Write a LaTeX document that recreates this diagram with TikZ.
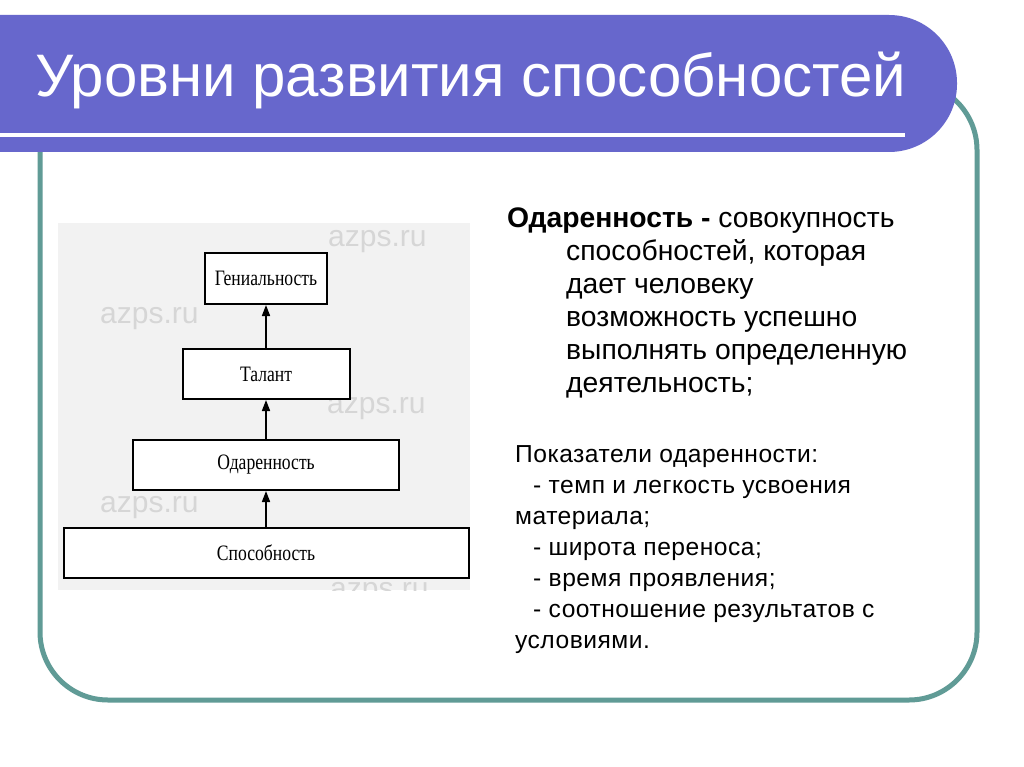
\documentclass[tikz,border=0pt]{standalone}
\usepackage{fontspec}
\setmainfont{Liberation Sans}
\newfontfamily\boxfont[FakeStretch=0.8]{Liberation Serif}
\newfontfamily\spacedfont[LetterSpace=2]{Liberation Sans}
\usetikzlibrary{arrows.meta}
\definecolor{titlebg}{RGB}{103,103,204}
\definecolor{framec}{RGB}{96,155,150}
\definecolor{panel}{RGB}{242,242,242}
\definecolor{wm}{RGB}{214,214,214}
\begin{document}
\begin{tikzpicture}[x=1pt,y=-1pt,
 lvl/.style={draw=black,line width=2pt,fill=white,inner sep=0pt,font=\boxfont\fontsize{22}{24}\selectfont},
 wmark/.style={text=wm,font=\fontsize{30}{30}\selectfont,anchor=base west,inner sep=0pt},
 arr/.style={-{Triangle[length=11pt,width=8pt]},line width=1.6pt},
 txtA/.style={anchor=base west,inner sep=0pt,font=\fontsize{28.3}{32}\selectfont},
 txtB/.style={anchor=base west,inner sep=0pt,font=\spacedfont\fontsize{24.6}{30}\selectfont}]
\useasboundingbox (0,0) rectangle (1024,767);
\fill[white] (0,0) rectangle (1024,767);
% frame
\draw[framec,line width=5pt,rounded corners=68pt] (40,82) rectangle (977,700);
% title bar
\fill[titlebg,rounded corners=68pt] (-100,15) rectangle (957,152);
\fill[white] (0,133) rectangle (905,137.5);
\node[anchor=base west,text=white,inner sep=0pt,font=\fontsize{60}{60}\selectfont] (title) at (35,97) {Уровни развития способностей};
% diagram panel
\fill[panel] (58,223) rectangle (470,590);
\node[wmark] (w1) at (328,247) {azps.ru};
\node[wmark] (w2) at (100,323) {azps.ru};
\node[wmark] (w3) at (327,413) {azps.ru};
\node[wmark] (w4) at (100,512) {azps.ru};
\begin{scope}
\clip (58,223) rectangle (470,590);
\node[wmark] (w5) at (330,598) {azps.ru};
\end{scope}
\node[lvl,minimum width=122pt,minimum height=51pt] (g) at (266,278.5) {Гениальность};
\node[lvl,minimum width=167pt,minimum height=50pt] (t) at (266,374) {Талант};
\node[lvl,minimum width=266pt,minimum height=50pt] (o) at (266,465) {Одаренность};
\node[lvl,minimum width=405pt,minimum height=50pt] (s) at (266,553) {Способность};
\draw[arr] (s.north) -- (o.south);
\draw[arr] (o.north) -- (t.south);
\draw[arr] (t.north) -- (g.south);
% right text, block A
\node[txtA] (a1) at (507,227) {\bfseries Одаренность -\mdseries{} совокупность};
\node[txtA] (a2) at (566,260) {способностей, которая};
\node[txtA] (a3) at (566,293) {дает человеку};
\node[txtA] (a4) at (566,326) {возможность успешно};
\node[txtA] (a5) at (566,359) {выполнять определенную};
\node[txtA] (a6) at (566,392) {деятельность;};
% block B
\node[txtB] (b1) at (515,462) {Показатели одаренности:};
\node[txtB] (b2) at (533,493) {- темп и легкость усвоения};
\node[txtB] (b3) at (515,524) {материала;};
\node[txtB] (b4) at (533,555) {- широта переноса;};
\node[txtB] (b5) at (533,586) {- время проявления;};
\node[txtB] (b6) at (533,617) {- соотношение результатов с};
\node[txtB] (b7) at (515,648) {условиями.};
\end{tikzpicture}
\end{document}
